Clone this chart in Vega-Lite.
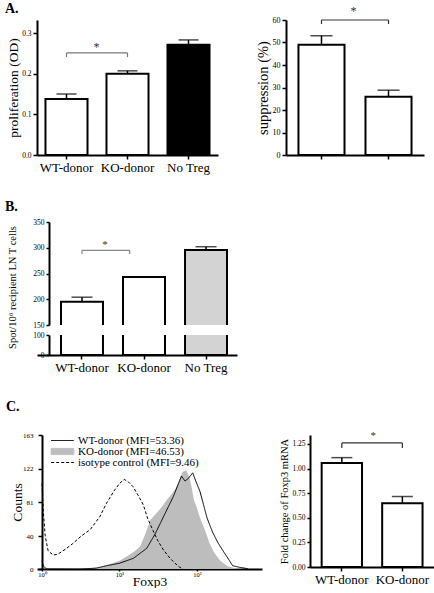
{
  "$schema": "https://vega.github.io/schema/vega-lite/v6.json",
  "padding": {"left": 5, "top": 2, "right": 0, "bottom": 0},
  "background": "white",
  "config": {
    "font": "Liberation Serif",
    "view": {"stroke": null},
    "axis": {"labelFont": "Liberation Serif", "titleFont": "Liberation Serif", "labelColor": "black", "titleColor": "black", "domainColor": "black", "tickColor": "black", "domainWidth": 2, "tickWidth": 1.5, "tickSize": 4, "titleFontWeight": "normal", "grid": false, "labelPadding": 2, "titlePadding": 2, "labelOverlap": false},
    "title": {"font": "Liberation Serif", "fontSize": 14, "fontWeight": "bold", "anchor": "start", "frame": "group", "offset": 4, "color": "black"}
  },
  "datasets": {
    "prolif": [
      {"group": "WT-donor", "mean": 0.138, "upper": 0.150},
      {"group": "KO-donor", "mean": 0.200, "upper": 0.207},
      {"group": "No Treg", "mean": 0.271, "upper": 0.283}
    ],
    "supp": [
      {"group": "WT-donor", "mean": 49.0, "upper": 53.0},
      {"group": "KO-donor", "mean": 25.9, "upper": 28.8}
    ],
    "spot": [
      {"group": "WT-donor", "mean": 195, "upper": 204},
      {"group": "KO-donor", "mean": 243, "upper": 243.5},
      {"group": "No Treg", "mean": 295.5, "upper": 302}
    ],
    "fold": [
      {"group": "WT-donor", "mean": 1.057, "upper": 1.111},
      {"group": "KO-donor", "mean": 0.648, "upper": 0.716}
    ],
    "sigA1": [{"from": "WT-donor", "to": "KO-donor", "y": 0.251, "yend": 0.241, "star": 0.265}],
    "sigA2": [{"from": "WT-donor", "to": "KO-donor", "y": 60, "yend": 58.2, "star": 64}],
    "sigB": [{"from": "WT-donor", "to": "KO-donor", "y": 295, "yend": 288, "star": 306}],
    "sigC": [{"from": "WT-donor", "to": "KO-donor", "y": 1.26, "yend": 1.21, "star": 1.33}],
    "ko": [
      {"fluor": 1, "count": 0}, {"fluor": 2.82, "count": 1}, {"fluor": 3.55, "count": 0.5}, {"fluor": 5.62, "count": 2},
      {"fluor": 7.59, "count": 6}, {"fluor": 10, "count": 10}, {"fluor": 12.3, "count": 15}, {"fluor": 15.85, "count": 22},
      {"fluor": 18.62, "count": 28}, {"fluor": 21.38, "count": 42}, {"fluor": 25.12, "count": 60}, {"fluor": 30.2, "count": 68},
      {"fluor": 35.48, "count": 76}, {"fluor": 40.74, "count": 84}, {"fluor": 47.86, "count": 92}, {"fluor": 52.48, "count": 97},
      {"fluor": 58.88, "count": 108}, {"fluor": 64.57, "count": 118}, {"fluor": 72.44, "count": 120}, {"fluor": 79.43, "count": 112},
      {"fluor": 85.11, "count": 100}, {"fluor": 91.2, "count": 84}, {"fluor": 100, "count": 74}, {"fluor": 109.6, "count": 62},
      {"fluor": 125.9, "count": 48}, {"fluor": 144.5, "count": 32}, {"fluor": 166, "count": 20}, {"fluor": 199.5, "count": 10},
      {"fluor": 251.2, "count": 3}, {"fluor": 316.2, "count": 1}, {"fluor": 398.1, "count": 0}
    ],
    "lines": [
      {"series": "WT-donor (MFI=53.36)", "fluor": 1, "count": 10},
      {"series": "WT-donor (MFI=53.36)", "fluor": 1.05, "count": 3},
      {"series": "WT-donor (MFI=53.36)", "fluor": 1.15, "count": 0},
      {"series": "WT-donor (MFI=53.36)", "fluor": 3.16, "count": 0},
      {"series": "WT-donor (MFI=53.36)", "fluor": 5, "count": 1},
      {"series": "WT-donor (MFI=53.36)", "fluor": 6.8, "count": 4},
      {"series": "WT-donor (MFI=53.36)", "fluor": 10, "count": 7},
      {"series": "WT-donor (MFI=53.36)", "fluor": 15.1, "count": 13},
      {"series": "WT-donor (MFI=53.36)", "fluor": 22.4, "count": 25},
      {"series": "WT-donor (MFI=53.36)", "fluor": 28.6, "count": 42},
      {"series": "WT-donor (MFI=53.36)", "fluor": 36.7, "count": 63},
      {"series": "WT-donor (MFI=53.36)", "fluor": 49.4, "count": 88},
      {"series": "WT-donor (MFI=53.36)", "fluor": 58.9, "count": 106},
      {"series": "WT-donor (MFI=53.36)", "fluor": 63.1, "count": 113},
      {"series": "WT-donor (MFI=53.36)", "fluor": 70, "count": 107},
      {"series": "WT-donor (MFI=53.36)", "fluor": 77, "count": 110},
      {"series": "WT-donor (MFI=53.36)", "fluor": 88.1, "count": 117},
      {"series": "WT-donor (MFI=53.36)", "fluor": 95.5, "count": 108},
      {"series": "WT-donor (MFI=53.36)", "fluor": 109.6, "count": 94},
      {"series": "WT-donor (MFI=53.36)", "fluor": 134.9, "count": 62},
      {"series": "WT-donor (MFI=53.36)", "fluor": 158.5, "count": 45},
      {"series": "WT-donor (MFI=53.36)", "fluor": 186.2, "count": 32},
      {"series": "WT-donor (MFI=53.36)", "fluor": 223.9, "count": 20},
      {"series": "WT-donor (MFI=53.36)", "fluor": 263, "count": 10},
      {"series": "WT-donor (MFI=53.36)", "fluor": 288.4, "count": 4},
      {"series": "WT-donor (MFI=53.36)", "fluor": 354.8, "count": 2},
      {"series": "WT-donor (MFI=53.36)", "fluor": 416.9, "count": 1},
      {"series": "WT-donor (MFI=53.36)", "fluor": 457.1, "count": 0},
      {"series": "isotype control (MFI=9.46)", "fluor": 1, "count": 104},
      {"series": "isotype control (MFI=9.46)", "fluor": 1.04, "count": 70},
      {"series": "isotype control (MFI=9.46)", "fluor": 1.1, "count": 40},
      {"series": "isotype control (MFI=9.46)", "fluor": 1.2, "count": 22},
      {"series": "isotype control (MFI=9.46)", "fluor": 1.4, "count": 17},
      {"series": "isotype control (MFI=9.46)", "fluor": 1.6, "count": 18},
      {"series": "isotype control (MFI=9.46)", "fluor": 2.0, "count": 24},
      {"series": "isotype control (MFI=9.46)", "fluor": 2.5, "count": 31},
      {"series": "isotype control (MFI=9.46)", "fluor": 3.2, "count": 40},
      {"series": "isotype control (MFI=9.46)", "fluor": 4.2, "count": 48},
      {"series": "isotype control (MFI=9.46)", "fluor": 5.6, "count": 64},
      {"series": "isotype control (MFI=9.46)", "fluor": 6.8, "count": 80},
      {"series": "isotype control (MFI=9.46)", "fluor": 8.5, "count": 95},
      {"series": "isotype control (MFI=9.46)", "fluor": 10, "count": 104},
      {"series": "isotype control (MFI=9.46)", "fluor": 11.5, "count": 109},
      {"series": "isotype control (MFI=9.46)", "fluor": 13, "count": 106},
      {"series": "isotype control (MFI=9.46)", "fluor": 15, "count": 100},
      {"series": "isotype control (MFI=9.46)", "fluor": 17.8, "count": 88},
      {"series": "isotype control (MFI=9.46)", "fluor": 20.3, "count": 78},
      {"series": "isotype control (MFI=9.46)", "fluor": 23, "count": 62},
      {"series": "isotype control (MFI=9.46)", "fluor": 27, "count": 47},
      {"series": "isotype control (MFI=9.46)", "fluor": 31, "count": 35},
      {"series": "isotype control (MFI=9.46)", "fluor": 37, "count": 23},
      {"series": "isotype control (MFI=9.46)", "fluor": 45, "count": 13},
      {"series": "isotype control (MFI=9.46)", "fluor": 52, "count": 7},
      {"series": "isotype control (MFI=9.46)", "fluor": 60, "count": 2},
      {"series": "isotype control (MFI=9.46)", "fluor": 66, "count": 0}
    ]
  },
  "spacing": 26,
  "resolve": {"scale": {"color": "independent", "strokeDash": "independent"}, "legend": {"color": "independent", "strokeDash": "independent"}},
  "vconcat": [
    {
      "hconcat": [
        {
          "title": {"text": "A.", "dx": -32},
          "width": 181,
          "height": 135,
          "layer": [
            {"data": {"name": "prolif"}, "mark": {"type": "rule", "strokeWidth": 1.5, "color": "black"},
             "encoding": {
               "x": {"field": "group", "type": "nominal", "scale": {"domain": ["WT-donor", "KO-donor", "No Treg"], "paddingInner": 0.311, "paddingOuter": 0.139}, "axis": {"title": null, "labelAngle": 0, "labelFontSize": 13}},
               "y": {"field": "mean", "type": "quantitative", "scale": {"domain": [0, 0.332], "nice": false}, "axis": {"title": "proliferation (OD)", "values": [0, 0.1, 0.2, 0.3], "tickCount": 20, "format": ".1f", "labelFontSize": 7.5, "titleFontSize": 13.5, "titlePadding": 1}},
               "y2": {"field": "upper"}}},
            {"data": {"name": "prolif"}, "mark": {"type": "tick", "size": 20, "thickness": 1.5, "color": "black"},
             "encoding": {"x": {"field": "group", "type": "nominal"}, "y": {"field": "upper", "type": "quantitative"}}},
            {"data": {"name": "prolif"}, "mark": {"type": "bar", "stroke": "black", "strokeWidth": 2},
             "encoding": {"x": {"field": "group", "type": "nominal"}, "y": {"field": "mean", "type": "quantitative"},
               "fill": {"condition": {"test": "datum.group === 'No Treg'", "value": "black"}, "value": "white"}}},
            {"data": {"name": "sigA1"}, "mark": {"type": "rule", "color": "#777", "strokeWidth": 1.2},
             "encoding": {"x": {"field": "from", "type": "nominal"}, "x2": {"field": "to"}, "y": {"field": "y", "type": "quantitative"}}},
            {"data": {"name": "sigA1"}, "mark": {"type": "rule", "color": "#777", "strokeWidth": 1.2},
             "encoding": {"x": {"field": "from", "type": "nominal"}, "y": {"field": "y", "type": "quantitative"}, "y2": {"field": "yend"}}},
            {"data": {"name": "sigA1"}, "mark": {"type": "rule", "color": "#777", "strokeWidth": 1.2},
             "encoding": {"x": {"field": "to", "type": "nominal"}, "y": {"field": "y", "type": "quantitative"}, "y2": {"field": "yend"}}},
            {"data": {"name": "sigA1"}, "mark": {"type": "text", "text": "*", "fontSize": 12, "font": "Liberation Serif", "fill": "#333"},
             "encoding": {"x": {"field": "from", "type": "nominal", "bandPosition": 1.214}, "y": {"field": "star", "type": "quantitative"}}}
          ]
        },
        {
          "width": 138,
          "height": 135,
          "layer": [
            {"data": {"name": "supp"}, "mark": {"type": "rule", "strokeWidth": 1.5, "color": "black"},
             "encoding": {
               "x": {"field": "group", "type": "nominal", "scale": {"domain": ["WT-donor", "KO-donor"], "paddingInner": 0.313, "paddingOuter": 0.186}, "axis": {"title": null, "labels": false}},
               "y": {"field": "mean", "type": "quantitative", "scale": {"domain": [0, 60], "nice": false}, "axis": {"title": "suppression (%)", "values": [0, 10, 20, 30, 40, 50, 60], "tickCount": 20, "labelFontSize": 8, "titleFontSize": 14.5}},
               "y2": {"field": "upper"}}},
            {"data": {"name": "supp"}, "mark": {"type": "tick", "size": 22, "thickness": 1.5, "color": "black"},
             "encoding": {"x": {"field": "group", "type": "nominal"}, "y": {"field": "upper", "type": "quantitative"}}},
            {"data": {"name": "supp"}, "mark": {"type": "bar", "stroke": "black", "strokeWidth": 2, "fill": "white"},
             "encoding": {"x": {"field": "group", "type": "nominal"}, "y": {"field": "mean", "type": "quantitative"}}},
            {"data": {"name": "sigA2"}, "mark": {"type": "rule", "color": "#333", "strokeWidth": 1.2},
             "encoding": {"x": {"field": "from", "type": "nominal"}, "x2": {"field": "to"}, "y": {"field": "y", "type": "quantitative"}}},
            {"data": {"name": "sigA2"}, "mark": {"type": "rule", "color": "#333", "strokeWidth": 1.2},
             "encoding": {"x": {"field": "from", "type": "nominal"}, "y": {"field": "y", "type": "quantitative"}, "y2": {"field": "yend"}}},
            {"data": {"name": "sigA2"}, "mark": {"type": "rule", "color": "#333", "strokeWidth": 1.2},
             "encoding": {"x": {"field": "to", "type": "nominal"}, "y": {"field": "y", "type": "quantitative"}, "y2": {"field": "yend"}}},
            {"data": {"name": "sigA2"}, "mark": {"type": "text", "text": "*", "fontSize": 12, "font": "Liberation Serif", "fill": "#333"},
             "encoding": {"x": {"field": "from", "type": "nominal", "bandPosition": 1.196}, "y": {"field": "star", "type": "quantitative"}}}
          ]
        }
      ],
      "spacing": 37
    },
    {
      "vconcat": [
        {
          "title": {"text": "B.", "dx": -32},
          "width": 200,
          "height": 103,
          "layer": [
            {"data": {"name": "spot"}, "mark": {"type": "rule", "strokeWidth": 1.5, "color": "black"},
             "encoding": {
               "x": {"field": "group", "type": "nominal", "scale": {"domain": ["WT-donor", "KO-donor", "No Treg"], "paddingInner": 0.323, "paddingOuter": 0.274, "align": 0.706}, "axis": null},
               "y": {"field": "mean", "type": "quantitative", "scale": {"domain": [150, 350], "nice": false, "zero": false}, "axis": {"title": "Spot/10⁶ recipient LN T cells", "values": [150, 200, 250, 300, 350], "tickCount": 20, "offset": -12, "labelFontSize": 7.5, "titleFontSize": 10.5, "tickSize": 3, "titleY": 65, "titlePadding": 15}},
               "y2": {"field": "upper"}}},
            {"data": {"name": "spot"}, "mark": {"type": "tick", "size": 21, "thickness": 1.5, "color": "black"},
             "encoding": {"x": {"field": "group", "type": "nominal"}, "y": {"field": "upper", "type": "quantitative"}}},
            {"data": {"name": "spot"}, "mark": {"type": "bar", "stroke": "black", "strokeWidth": 2, "clip": true},
             "encoding": {"x": {"field": "group", "type": "nominal"}, "y": {"field": "mean", "type": "quantitative"}, "y2": {"datum": 0},
               "fill": {"condition": {"test": "datum.group === 'No Treg'", "value": "#d3d3d3"}, "value": "white"}}},
            {"data": {"name": "sigB"}, "mark": {"type": "rule", "color": "#888", "strokeWidth": 1.2},
             "encoding": {"x": {"field": "from", "type": "nominal"}, "x2": {"field": "to", "bandPosition": 0.16}, "y": {"field": "y", "type": "quantitative"}}},
            {"data": {"name": "sigB"}, "mark": {"type": "rule", "color": "#888", "strokeWidth": 1.2},
             "encoding": {"x": {"field": "from", "type": "nominal"}, "y": {"field": "y", "type": "quantitative"}, "y2": {"field": "yend"}}},
            {"data": {"name": "sigB"}, "mark": {"type": "rule", "color": "#888", "strokeWidth": 1.2},
             "encoding": {"x": {"field": "to", "type": "nominal", "bandPosition": 0.16}, "y": {"field": "y", "type": "quantitative"}, "y2": {"field": "yend"}}},
            {"data": {"name": "sigB"}, "mark": {"type": "text", "text": "*", "fontSize": 11, "font": "Liberation Serif", "fill": "#333"},
             "encoding": {"x": {"field": "from", "type": "nominal", "bandPosition": 1.05}, "y": {"field": "star", "type": "quantitative"}}}
          ]
        },
        {
          "width": 200,
          "height": 20,
          "data": {"name": "spot"},
          "mark": {"type": "bar", "stroke": "black", "strokeWidth": 2, "clip": true},
          "encoding": {
            "x": {"field": "group", "type": "nominal", "scale": {"domain": ["WT-donor", "KO-donor", "No Treg"], "paddingInner": 0.323, "paddingOuter": 0.274, "align": 0.706}, "axis": {"title": null, "labelAngle": 0, "labelFontSize": 13}},
            "y": {"field": "mean", "type": "quantitative", "scale": {"domain": [0, 100], "nice": false}, "axis": {"title": null, "values": [0, 100], "tickCount": 20, "offset": -12, "labelFontSize": 7.5, "tickSize": 3}},
            "fill": {"condition": {"test": "datum.group === 'No Treg'", "value": "#d3d3d3"}, "value": "white"}
          }
        }
      ],
      "spacing": 10,
      "bounds": "flush"
    },
    {
      "spacing": 17,
      "resolve": {"scale": {"color": "independent", "strokeDash": "independent"}, "legend": {"color": "independent", "strokeDash": "independent"}},
      "hconcat": [
        {
          "title": {"text": "C.", "dx": -31, "offset": 17},
          "width": 225,
          "height": 134,
          "layer": [
            {"data": {"name": "ko"}, "mark": {"type": "area", "color": "#bdbdbd", "interpolate": "linear"},
             "encoding": {
               "x": {"field": "fluor", "type": "quantitative", "scale": {"type": "log", "domain": [0.862, 690], "nice": false}, "axis": {"title": "Foxp3", "titleFontSize": 13.5, "values": [1, 10, 100], "tickCount": 20, "labelExpr": "datum.value == 1 ? '10⁰' : datum.value == 10 ? '10¹' : '10²'", "labelFontSize": 6.5, "tickSize": 2, "labelPadding": 0, "titlePadding": -3}},
               "y": {"field": "count", "type": "quantitative", "scale": {"domain": [0, 163], "nice": false}, "axis": {"title": "Counts", "titleFontSize": 13.5, "values": [0, 40, 81, 122, 163], "tickCount": 20, "offset": -5, "labelFontSize": 7, "labelPadding": 5, "titlePadding": -2}}}},
            {"data": {"name": "lines"}, "mark": {"type": "line", "strokeWidth": 1, "interpolate": "linear"},
             "encoding": {
               "x": {"field": "fluor", "type": "quantitative"},
               "y": {"field": "count", "type": "quantitative"},
               "color": {"field": "series", "type": "nominal", "scale": {"domain": ["WT-donor (MFI=53.36)", "KO-donor (MFI=46.53)", "isotype control (MFI=9.46)"], "range": ["black", "#bdbdbd", "black"]},
                 "legend": {"orient": "top-left", "offset": 0, "padding": 0, "title": null, "symbolType": "M-4,0H4", "symbolSize": 32, "symbolStrokeWidth": 1, "labelFont": "Liberation Serif", "labelFontSize": 11, "labelColor": "black", "rowPadding": -9.5, "symbolOffset": 20, "labelOffset": 10,
                   "encode": {"symbols": {"update": {
                     "shape": {"signal": "datum.value === 'KO-donor (MFI=46.53)' ? 'M-4,-1.1H4V1.1H-4Z' : 'M-4,0H4'"},
                     "fill": {"signal": "datum.value === 'KO-donor (MFI=46.53)' ? '#bdbdbd' : 'transparent'"},
                     "strokeWidth": {"value": 1}}}}}},
               "strokeDash": {"field": "series", "type": "nominal", "scale": {"domain": ["WT-donor (MFI=53.36)", "KO-donor (MFI=46.53)", "isotype control (MFI=9.46)"], "range": [[1, 0], [1, 0], [3, 2]]}, "legend": {"orient": "top-left", "title": null}}
             }}
          ]
        },
        {
          "width": 128,
          "height": 132,
          "layer": [
            {"data": {"name": "fold"}, "mark": {"type": "rule", "strokeWidth": 1.5, "color": "black"},
             "encoding": {
               "x": {"field": "group", "type": "nominal", "scale": {"domain": ["WT-donor", "KO-donor"], "paddingInner": 0.333, "paddingOuter": 0.224, "align": 0.43}, "axis": {"title": null, "labelAngle": 0, "labelFontSize": 13}},
               "y": {"field": "mean", "type": "quantitative", "scale": {"domain": [0, 1.341], "nice": false}, "axis": {"title": "Fold change of Foxp3 mRNA", "values": [0, 0.25, 0.5, 0.75, 1, 1.25], "tickCount": 20, "format": ".2f", "labelFontSize": 7.5, "titleFontSize": 10.5, "tickSize": 3}},
               "y2": {"field": "upper"}}},
            {"data": {"name": "fold"}, "mark": {"type": "tick", "size": 21, "thickness": 1.5, "color": "black"},
             "encoding": {"x": {"field": "group", "type": "nominal"}, "y": {"field": "upper", "type": "quantitative"}}},
            {"data": {"name": "fold"}, "mark": {"type": "bar", "stroke": "black", "strokeWidth": 2, "fill": "white"},
             "encoding": {"x": {"field": "group", "type": "nominal"}, "y": {"field": "mean", "type": "quantitative"}}},
            {"data": {"name": "sigC"}, "mark": {"type": "rule", "color": "#333", "strokeWidth": 1.2},
             "encoding": {"x": {"field": "from", "type": "nominal"}, "x2": {"field": "to"}, "y": {"field": "y", "type": "quantitative"}}},
            {"data": {"name": "sigC"}, "mark": {"type": "rule", "color": "#333", "strokeWidth": 1.2},
             "encoding": {"x": {"field": "from", "type": "nominal"}, "y": {"field": "y", "type": "quantitative"}, "y2": {"field": "yend"}}},
            {"data": {"name": "sigC"}, "mark": {"type": "rule", "color": "#333", "strokeWidth": 1.2},
             "encoding": {"x": {"field": "to", "type": "nominal"}, "y": {"field": "y", "type": "quantitative"}, "y2": {"field": "yend"}}},
            {"data": {"name": "sigC"}, "mark": {"type": "text", "text": "*", "fontSize": 11, "font": "Liberation Serif", "fill": "#333"},
             "encoding": {"x": {"field": "from", "type": "nominal", "bandPosition": 1.28}, "y": {"field": "star", "type": "quantitative"}}}
          ]
        }
      ]
    }
  ]
}
